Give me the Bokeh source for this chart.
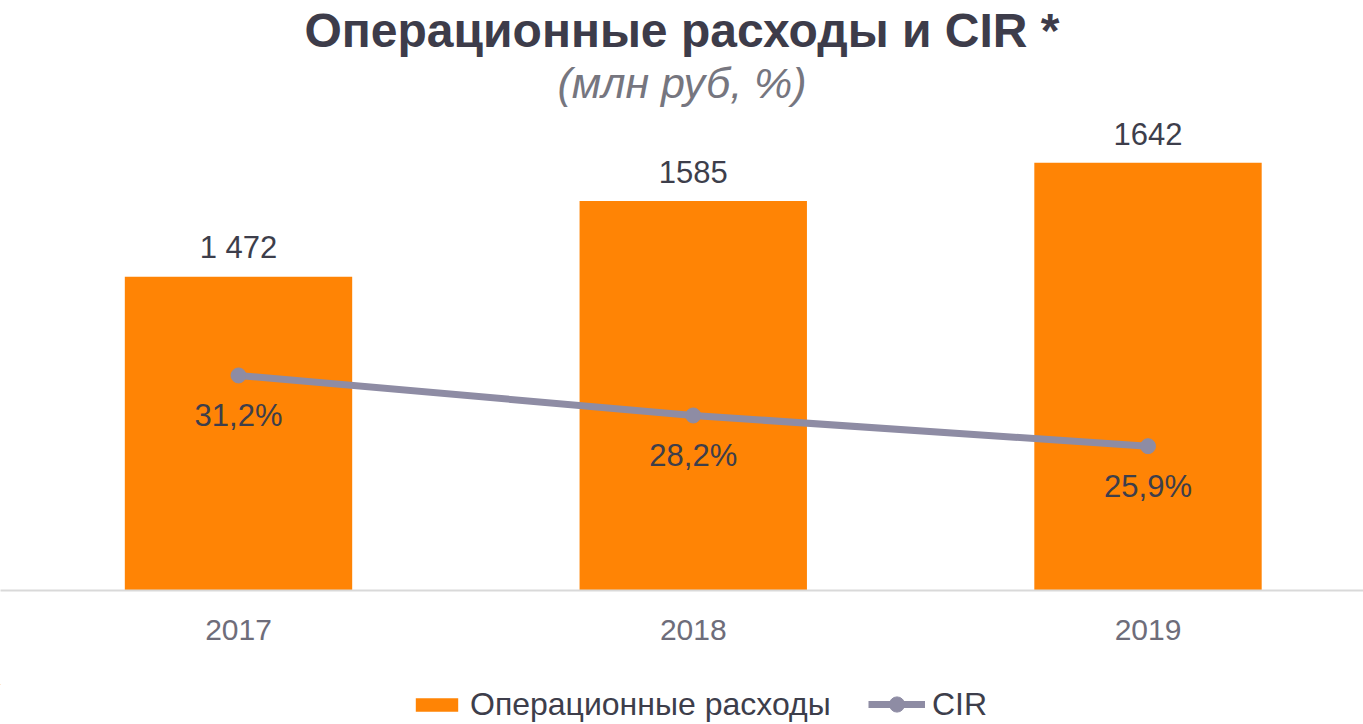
from bokeh.plotting import figure
from bokeh.models import (Range1d, ColumnDataSource, LabelSet, Title, Legend, LegendItem,
                          FixedTicker)
from bokeh.layouts import column
from bokeh.core.properties import value
from bokeh.embed import file_html
from bokeh.resources import INLINE

# ---- data ----
years = ["2017", "2018", "2019"]
opex = [1472, 1585, 1642]
opex_labels = ["1 472", "1585", "1642"]
cir = [31.2, 28.2, 25.9]
cir_labels = ["31,2%", "28,2%", "25,9%"]

ORANGE = "#FF8405"
LINE = "#8E8CA4"
DARK = "#3D3E4B"
GRAY = "#6E6D7A"
FONT = "Liberation Sans"

xs = list(range(len(years)))
src = ColumnDataSource(dict(x=xs, opex=opex, opex_lab=opex_labels, cir=cir, cir_lab=cir_labels))

W = 1363
H_MAIN = 684
H_LEG = 40
frame_top = 106          # px
frame_bottom = 590       # px
fh = frame_bottom - frame_top
k1 = 0.6706              # px per unit (primary)
y0 = 1004
k2 = 13.34               # px per unit (secondary)
w0 = 15.08
kx = 454.75              # px per category
x_start = -238 / kx

p = figure(width=W, height=H_MAIN, output_backend="svg", toolbar_location=None, title=None,
           x_range=Range1d(x_start, x_start + W / kx),
           y_range=Range1d(y0, y0 + fh / k1),
           min_border_left=0, min_border_right=0, min_border_top=frame_top,
           min_border_bottom=H_MAIN - frame_bottom)
p.extra_y_ranges = {"cir": Range1d(w0, w0 + fh / k2)}
p.outline_line_color = None
p.background_fill_color = "white"
p.border_fill_color = "white"
p.xgrid.visible = False
p.ygrid.visible = False
p.yaxis.visible = False

ax = p.xaxis[0]
ax.ticker = FixedTicker(ticks=xs)
ax.major_label_overrides = {i: y for i, y in zip(xs, years)}
ax.axis_line_color = "#D9D9D9"
ax.axis_line_width = 2
ax.major_tick_line_color = None
ax.minor_tick_line_color = None
ax.major_label_text_font = FONT
ax.major_label_text_font_size = "30px"
ax.major_label_text_color = GRAY
ax.major_label_standoff = 23


def add_series(fig):
    b = fig.vbar(x="x", top="opex", bottom=y0, width=0.5, source=src, fill_color=ORANGE,
                 line_color=None)
    l = fig.line(x="x", y="cir", source=src, y_range_name="cir", line_color=LINE,
                 line_width=7)
    m = fig.scatter(x="x", y="cir", source=src, y_range_name="cir", size=15,
                    fill_color=LINE, line_color=LINE)
    return b, l, m


add_series(p)

p.add_layout(LabelSet(x="x", y="opex", text="opex_lab", source=src, text_align="center",
                      text_baseline="middle", y_offset=29, text_font=value(FONT),
                      text_font_size="31px", text_color=DARK))
p.add_layout(LabelSet(x="x", y="cir", text="cir_lab", source=src, y_range_name="cir",
                      text_align="center", text_baseline="middle", y_offset=-40,
                      text_font=value(FONT), text_font_size="31px", text_color=DARK))

sub = Title(text="(млн руб, %)", align="center", text_font=FONT,
            text_font_style="italic", text_font_size="43px", text_color="#76767F", standoff=0)
main = Title(text="Операционные расходы и CIR *", align="center",
             text_font=FONT, text_font_style="bold",
             text_font_size="48px", text_color="#3D3C4A", standoff=0)
p.add_layout(sub, "above")
p.add_layout(main, "above")

# legend strip (its glyphs sit outside its visible ranges; only the legends show)
q = figure(width=W, height=H_LEG, output_backend="svg", toolbar_location=None, title=None,
           x_range=Range1d(100, 101), y_range=Range1d(0, 1),
           min_border_left=0, min_border_right=0, min_border_top=0, min_border_bottom=0)
q.extra_y_ranges = {"cir": Range1d(0, 1)}
q.axis.visible = False
q.grid.visible = False
q.outline_line_color = None
qb, ql, qm = add_series(q)

common = dict(orientation="horizontal", label_text_font=FONT, label_text_font_size="32px",
              label_text_color=DARK, label_standoff=7, border_line_color=None,
              background_fill_alpha=0, margin=0, padding=0)
leg1 = Legend(items=[LegendItem(label="Операционные расходы", renderers=[qb])],
              location=(410, 1), glyph_width=53, glyph_height=17, **common)
leg2 = Legend(items=[LegendItem(label="CIR", renderers=[ql, qm])],
              location=(868, 1), glyph_width=57, glyph_height=38, **common)
q.add_layout(leg1, "center")
q.add_layout(leg2, "center")

layout = column(p, q, spacing=0)
open("out.html", "w").write(file_html(layout, INLINE))
